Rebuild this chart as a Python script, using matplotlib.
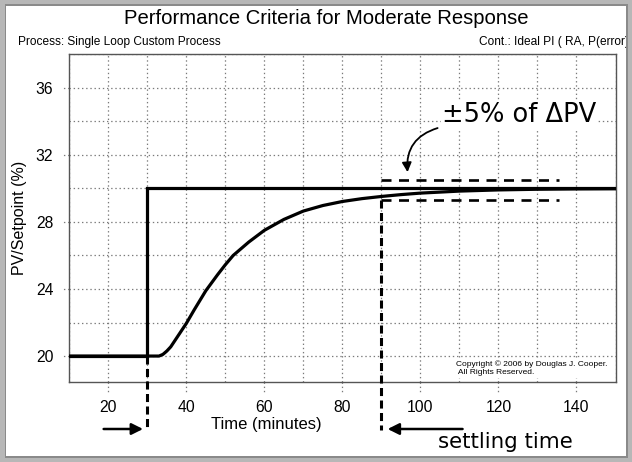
import matplotlib
matplotlib.use('Agg')
import matplotlib.pyplot as plt
from matplotlib.patches import Rectangle
from matplotlib.ticker import MultipleLocator

plt.rcParams['font.family'] = ['Liberation Sans', 'DejaVu Sans']
plt.rcParams['lines.scale_dashes'] = False

# ---------------- data ----------------
sp_time = [10, 30, 30, 150]
sp_value = [20, 20, 30, 30]

pv_time = [10, 33, 34, 35, 36, 37, 38, 40, 42, 45, 48, 50, 52, 56, 60, 65, 70,
           75, 80, 85, 90, 95, 100, 110, 120, 130, 140, 150]
pv_value = [20.0, 20.0, 20.1, 20.3, 20.55, 20.9, 21.25, 21.95, 22.75, 23.9,
            24.85, 25.45, 26.0, 26.8, 27.5, 28.15, 28.65, 28.98, 29.22, 29.39,
            29.52, 29.63, 29.72, 29.84, 29.91, 29.95, 29.97, 29.98]

step_time = 30
settling_time = 90
band_upper = 30.5
band_lower = 29.3
band_end = 135.5

x_ticks = [20, 40, 60, 80, 100, 120, 140]
y_ticks = [20, 24, 28, 32, 36]

title = "Performance Criteria for Moderate Response"
process_txt = "Process: Single Loop Custom Process"
cont_txt = "Cont.: Ideal PI ( RA, P(error)"
copyright_txt = "Copyright \u00a9 2006 by Douglas J. Cooper.\n All Rights Reserved."

# ---------------- layout ----------------
W, H = 632, 462
L, R, T, B = 69.3, 615.5, 54.3, 381.7

fig = plt.figure(figsize=(W / 100, H / 100), dpi=100)
fig.patch.set_facecolor('white')
ax = fig.add_axes([L / W, (H - B) / H, (R - L) / W, (B - T) / H])
ax.set_xlim(10, 150)
ax.set_ylim(18.47, 38)

grid_kw = dict(color='#7a7a7a', linewidth=0.9, linestyle=(0, (1, 2)))
ax.set_xticks(x_ticks)
ax.set_yticks(y_ticks)
ax.xaxis.set_minor_locator(MultipleLocator(10))
ax.yaxis.set_minor_locator(MultipleLocator(2))
ax.grid(which='both', **grid_kw)
ax.set_axisbelow(True)
ax.tick_params(which='both', length=0)
ax.tick_params(axis='x', pad=13.5, labelsize=11.3)
ax.tick_params(axis='y', pad=11.5, labelsize=11.3)
for s in ax.spines.values():
    s.set_color('#555555')
    s.set_linewidth(1.0)

# dotted tick extensions outside the axes
ph = B - T
pw = R - L
for t in x_ticks:
    ax.plot([t, t], [0, -11 / ph], transform=ax.get_xaxis_transform(),
            clip_on=False, zorder=0.5, **grid_kw)
for v in y_ticks:
    ax.plot([0, -6 / pw], [v, v], transform=ax.get_yaxis_transform(),
            clip_on=False, zorder=0.5, **grid_kw)

# main lines
ax.plot(sp_time, sp_value, color='black', linewidth=2.3, solid_joinstyle='miter', zorder=3)
ax.plot(pv_time, pv_value, color='black', linewidth=2.3, solid_joinstyle='round', zorder=3)

# +/- 5% band
band_dash = (0, (7.2, 5.4))
ax.plot([settling_time, band_end], [band_upper, band_upper], color='black',
        linewidth=1.9, linestyle=band_dash, zorder=4)
ax.plot([settling_time, band_end], [band_lower, band_lower], color='black',
        linewidth=1.9, linestyle=band_dash, zorder=4)

# vertical dashed markers extending below axis
line_bottom = 15.6
vdash = (0, (5.8, 3.2))
ax.plot([step_time, step_time], [sp_value[0], line_bottom], color='black',
        linewidth=2.2, linestyle=vdash, clip_on=False, zorder=4)
ax.plot([settling_time, settling_time], [band_lower, line_bottom], color='black',
        linewidth=2.2, linestyle=vdash, clip_on=False, zorder=4)

# arrows below axis
arr_kw = dict(arrowstyle='-|>', color='black', lw=1.8, mutation_scale=17,
              shrinkA=0, shrinkB=0)
ax.annotate('', xy=(28.9, 33), xytext=(18.8, 33),
            xycoords=('data', 'figure pixels'), textcoords=('data', 'figure pixels'),
            arrowprops=arr_kw, annotation_clip=False)
ax.annotate('', xy=(91.6, 33), xytext=(110.8, 33),
            xycoords=('data', 'figure pixels'), textcoords=('data', 'figure pixels'),
            arrowprops=arr_kw, annotation_clip=False)

# band annotation
ax.text(125.3, 34.4, '\u00b15% of \u0394PV', ha='center', va='center', fontsize=18.5,
        family='DejaVu Sans',
        bbox=dict(facecolor='white', edgecolor='none', pad=1.0), zorder=5)
ax.annotate('', xy=(96.7, 30.97), xytext=(104.4, 33.6),
            arrowprops=dict(arrowstyle='-|>', connectionstyle='arc3,rad=0.4',
                            color='black', lw=1.3, mutation_scale=14,
                            shrinkA=0, shrinkB=0), zorder=5)

# labels
ax.set_xlabel('Time (minutes)', fontsize=12)
ax.xaxis.set_label_coords((266.7 - L) / pw, -(424.5 - B) / ph)
ax.xaxis.label.set_va('center')
ax.set_ylabel('PV/Setpoint (%)', fontsize=11.5)
ax.yaxis.set_label_coords(-(L - 20) / pw, 0.5)
ax.yaxis.label.set_va('center')

fig.text(326.5 / W, (H - 18.3) / H, title, ha='center', va='center', fontsize=14.6)
fig.text(18 / W, (H - 45) / H, process_txt, ha='left', va='baseline', fontsize=8.6)
fig.text(629 / W, (H - 45) / H, cont_txt, ha='right', va='baseline', fontsize=8.6)
fig.text(505.5 / W, (H - 448) / H, 'settling time', ha='center', va='baseline',
         fontsize=15.4, family='DejaVu Sans')
fig.text(456 / W, (H - 368) / H, copyright_txt, ha='left', va='center', fontsize=6,
         linespacing=1.25, bbox=dict(facecolor='white', edgecolor='none', pad=1.5))

# gray frame
frame_c = '#b7b7b7'
edge_c = '#8a8a8a'
fw = 6
for (x0, y0, w, h) in [(0, 0, fw, H), (W - fw, 0, fw, H), (0, 0, W, fw), (0, H - fw, W, fw)]:
    fig.patches.append(Rectangle((x0 / W, y0 / H), w / W, h / H, transform=fig.transFigure,
                                 facecolor=frame_c, edgecolor='none', zorder=20))
for (x0, y0, w, h) in [(fw - 1.5, fw - 1.5, 1.5, H - 2 * fw + 3), (W - fw, fw - 1.5, 1.5, H - 2 * fw + 3),
                       (fw - 1.5, fw - 1.5, W - 2 * fw + 3, 1.5), (fw - 1.5, H - fw, W - 2 * fw + 3, 1.5)]:
    fig.patches.append(Rectangle((x0 / W, y0 / H), w / W, h / H, transform=fig.transFigure,
                                 facecolor=edge_c, edgecolor='none', zorder=21))

fig.savefig('out.png', dpi=100)
